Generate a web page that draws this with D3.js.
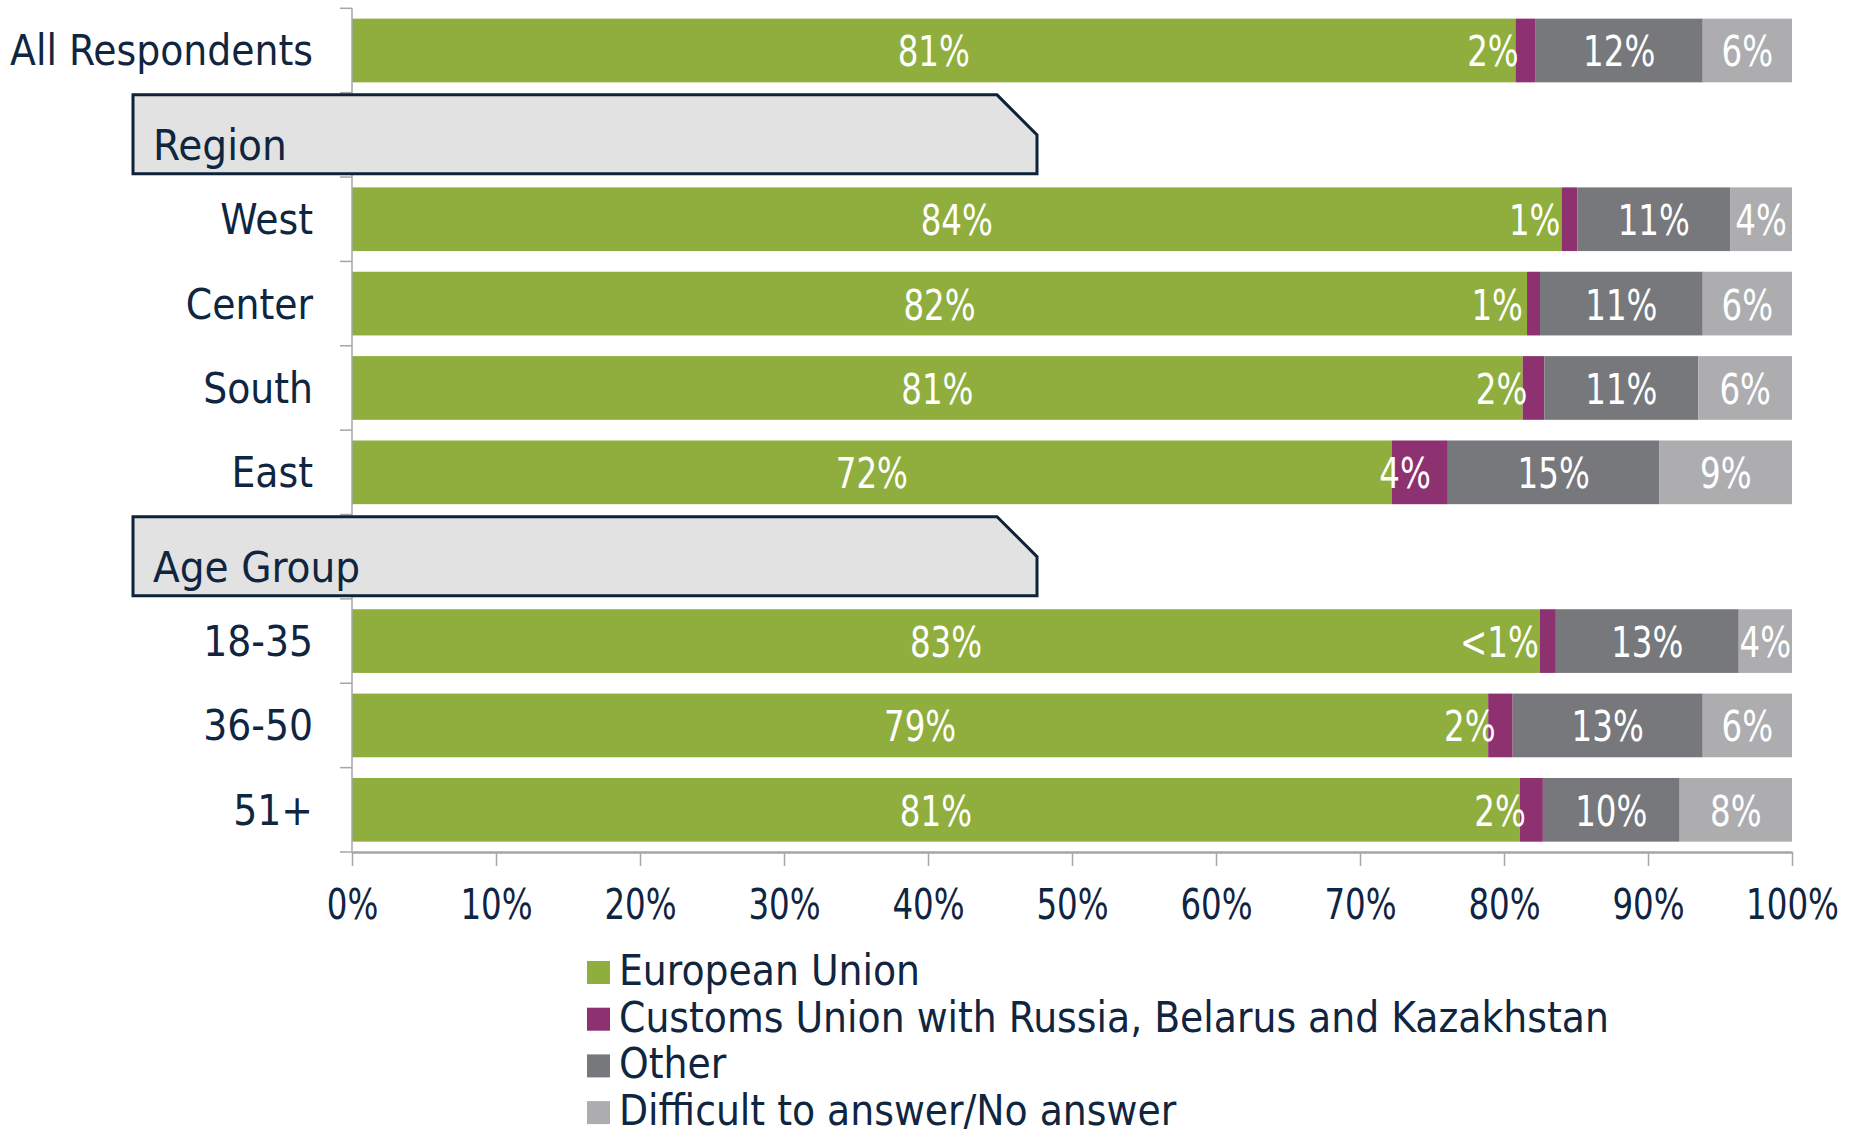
<!DOCTYPE html>
<html>
<head>
  <meta charset="utf-8">
  <script src="https://d3js.org/d3.v7.min.js"></script>
  <style>
    body { margin: 0; background: #fff; }
    text { font-family: 'DejaVu Sans Condensed', 'DejaVu Sans', sans-serif; }
  </style>
</head>
<body>
  <div id="chart"></div>
  <script>
    // categories on the y axis (headers get an empty slot)
    var categories = ["All Respondents", "Region", "West", "Center", "South", "East",
      "Age Group", "18-35", "36-50", "51+"];
    var headers = ["Region", "Age Group"];
    var rows = ["All Respondents", "West", "Center", "South", "East", "18-35", "36-50", "51+"];

    var seriesNames = ["European Union", "Customs Union with Russia, Belarus and Kazakhstan",
      "Other", "Difficult to answer/No answer"];
    var seriesColors = ["#8fae3e", "#8e3170", "#77787b", "#adadaf"];

    // values (percent)
    var euValues = [80.8, 84.0, 81.6, 81.3, 72.2, 82.5, 78.9, 81.1];
    var cuValues = [1.4, 1.1, 0.9, 1.5, 3.9, 1.1, 1.7, 1.6];
    var otherValues = [11.6, 10.6, 11.3, 10.7, 14.7, 12.7, 13.2, 9.5];
    var dkValues = [6.2, 4.3, 6.2, 6.5, 9.2, 3.7, 6.2, 7.8];

    // printed labels
    var euLabels = ["81%", "84%", "82%", "81%", "72%", "83%", "79%", "81%"];
    var cuLabels = ["2%", "1%", "1%", "2%", "4%", "<1%", "2%", "2%"];
    var otherLabels = ["12%", "11%", "11%", "11%", "15%", "13%", "13%", "10%"];
    var dkLabels = ["6%", "4%", "6%", "6%", "9%", "4%", "6%", "8%"];

    var xTicks = [0, 10, 20, 30, 40, 50, 60, 70, 80, 90, 100];

    var W = 1853, H = 1129;
    var textColor = "#10253f";
    var squeeze = "scale(0.86,1)"; // numbers are narrow in the original font

    var svg = d3.select("#chart").append("svg")
      .attr("width", W).attr("height", H);

    var x = d3.scaleLinear().domain([0, 100]).range([352, 1792]);
    var y = d3.scaleBand().domain(categories).range([8.3, 852])
      .paddingInner(0.245).paddingOuter(0.1225);

    // table for the stack
    var keys = ["eu", "cu", "other", "dk"];
    var table = rows.map(function (r, i) {
      return { cat: r, eu: euValues[i], cu: cuValues[i], other: otherValues[i], dk: dkValues[i] };
    });
    var labelSets = [euLabels, cuLabels, otherLabels, dkLabels];
    var stacked = d3.stack().keys(keys)(table);

    // bars
    var layers = svg.append("g").selectAll("g")
      .data(stacked).enter().append("g")
      .attr("fill", function (d, i) { return seriesColors[i]; });

    layers.selectAll("rect")
      .data(function (d) { return d; })
      .enter().append("rect")
      .attr("x", function (d) { return x(d[0]); })
      .attr("y", function (d) { return y(d.data.cat); })
      .attr("width", function (d) { return x(d[1]) - x(d[0]); })
      .attr("height", y.bandwidth());

    // y axis
    var step = y.step();
    var yAxisG = svg.append("g");
    yAxisG.append("line")
      .attr("x1", x(0)).attr("x2", x(0))
      .attr("y1", y.range()[0]).attr("y2", y.range()[1])
      .attr("stroke", "#a6a6a8").attr("stroke-width", 1.5);
    yAxisG.selectAll(".ytick")
      .data(d3.range(categories.length + 1))
      .enter().append("line")
      .attr("x1", x(0) - 12).attr("x2", x(0))
      .attr("y1", function (k) { return y.range()[0] + k * step; })
      .attr("y2", function (k) { return y.range()[0] + k * step; })
      .attr("stroke", "#a6a6a8").attr("stroke-width", 1.5);

    yAxisG.selectAll(".ylab")
      .data(rows)
      .enter().append("text")
      .attr("x", 313)
      .attr("y", function (d) { return y(d) + y.bandwidth() / 2 + 15; })
      .attr("text-anchor", "end")
      .attr("font-size", 42)
      .attr("fill", textColor)
      .text(function (d) { return d; });

    // x axis
    var xAxis = svg.append("g")
      .attr("transform", "translate(0," + y.range()[1] + ")")
      .call(d3.axisBottom(x).tickValues(xTicks).tickSize(14).tickSizeOuter(0)
        .tickFormat(function (d) { return d + "%"; }));
    xAxis.select(".domain").attr("stroke", "#a6a6a8").attr("stroke-width", 2.5);
    xAxis.selectAll(".tick line").attr("stroke", "#a6a6a8").attr("stroke-width", 1.5);
    xAxis.selectAll(".tick text")
      .attr("font-family", "'DejaVu Sans Condensed', sans-serif")
      .attr("font-size", 42)
      .attr("fill", textColor)
      .attr("y", 67).attr("dy", 0)
      .attr("transform", squeeze);

    // header boxes (drawn over the axis)
    var hdr = svg.append("g").selectAll("g")
      .data(headers).enter().append("g");
    hdr.append("path")
      .attr("d", function (d) {
        var c = y(d) + y.bandwidth() / 2;
        var t = c - 40, b = c + 39, l = 133, r = 1037, cut = 40;
        return "M" + l + "," + t + "L" + (r - cut) + "," + t + "L" + r + "," + (t + cut) +
          "L" + r + "," + b + "L" + l + "," + b + "Z";
      })
      .attr("fill", "#e2e2e2")
      .attr("stroke", "#0e2238")
      .attr("stroke-width", 3);
    hdr.append("text")
      .attr("x", 153)
      .attr("y", function (d) { return y(d) + y.bandwidth() / 2 + 25; })
      .attr("font-size", 43.5)
      .attr("fill", textColor)
      .text(function (d) { return d; });

    // value labels
    var lab = svg.append("g").selectAll("g")
      .data(stacked).enter().append("g");
    lab.selectAll("g")
      .data(function (d, i) { return d.map(function (s, j) { return { s: s, i: i, j: j }; }); })
      .enter().append("g")
      .attr("transform", function (d) {
        var px = d.i === 1 ? x(d.s[1]) - 17 : (x(d.s[0]) + x(d.s[1])) / 2;
        var py = y(d.s.data.cat) + y.bandwidth() / 2 + 16;
        return "translate(" + px + "," + py + ")";
      })
      .append("text")
      .attr("transform", squeeze)
      .attr("font-size", 42)
      .attr("fill", "#fff")
      .attr("text-anchor", function (d) { return d.i === 1 ? "end" : "middle"; })
      .text(function (d) { return labelSets[d.i][d.j]; });

    // legend
    var legend = svg.append("g").selectAll("g")
      .data(seriesNames).enter().append("g")
      .attr("transform", function (d, i) { return "translate(587," + (961 + i * 46.7) + ")"; });
    legend.append("rect")
      .attr("width", 23).attr("height", 23)
      .attr("fill", function (d, i) { return seriesColors[i]; });
    legend.append("text")
      .attr("x", 32).attr("y", 24)
      .attr("font-size", 42)
      .attr("fill", textColor)
      .text(function (d) { return d; });
  </script>
</body>
</html>
